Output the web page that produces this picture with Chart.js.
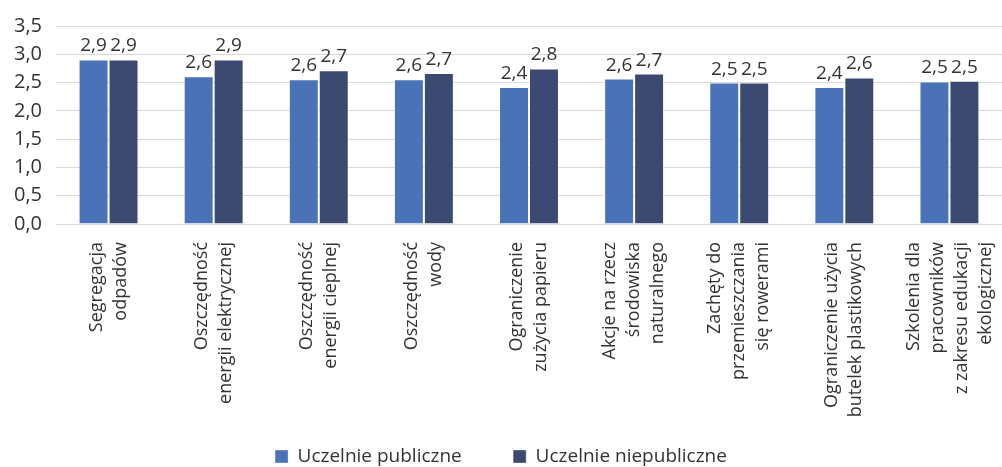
<!DOCTYPE html>
<html>
<head>
<meta charset="utf-8">
<script src="https://cdn.jsdelivr.net/npm/chart.js@4/dist/chart.umd.min.js"></script>
<style>
  html, body { margin: 0; padding: 0; background: #fff; }
  #wrap { width: 1002px; height: 467px; }
</style>
</head>
<body>
<div id="wrap"><canvas id="chart"></canvas></div>
<script>
// data
const categories = [
  ['Segregacja', 'odpadów'],
  ['Oszczędność', 'energii elektrycznej'],
  ['Oszczędność', 'energii cieplnej'],
  ['Oszczędność', 'wody'],
  ['Ograniczenie', 'zużycia papieru'],
  ['Akcje na rzecz', 'środowiska', 'naturalnego'],
  ['Zachęty do', 'przemieszczania', 'się rowerami'],
  ['Ograniczenie użycia', 'butelek plastikowych'],
  ['Szkolenia dla', 'pracowników', 'z zakresu edukacji', 'ekologicznej']
]
const publicValues = [2.91, 2.61, 2.56, 2.56, 2.42, 2.57, 2.50, 2.42, 2.52]
const privateValues = [2.91, 2.91, 2.72, 2.67, 2.75, 2.66, 2.50, 2.59, 2.53]
const seriesNames = ['Uczelnie publiczne', 'Uczelnie niepubliczne']

const fmt = v => v.toFixed(1).replace('.', ',')

// value labels above bars
const barLabels = {
  id: 'barLabels',
  afterDatasetsDraw(chart) {
    const ctx = chart.ctx
    ctx.save()
    ctx.font = '19px "Open Sans"'
    ctx.fillStyle = '#333'
    ctx.textAlign = 'center'
    ctx.textBaseline = 'alphabetic'
    chart.data.datasets.forEach((ds, i) => {
      chart.getDatasetMeta(i).data.forEach((bar, j) => {
        ctx.fillText(fmt(ds.data[j]), bar.x, bar.y - 8)
      })
    })
    ctx.restore()
  }
}

// rotated multi-line category labels, centred on each tick
const catLabels = {
  id: 'catLabels',
  afterDraw(chart) {
    const ctx = chart.ctx
    const x = chart.scales.x
    const lh = 24
    ctx.save()
    ctx.font = '18px "Open Sans"'
    ctx.fillStyle = '#333'
    ctx.textAlign = 'right'
    ctx.textBaseline = 'middle'
    categories.forEach((lines, i) => {
      ctx.save()
      ctx.translate(x.getPixelForValue(i), x.top + 18)
      ctx.rotate(-Math.PI / 2)
      lines.forEach((line, k) => {
        ctx.fillText(line, 0, (k - (lines.length - 1) / 2) * lh)
      })
      ctx.restore()
    })
    ctx.restore()
  }
}

Chart.defaults.font.family = '"Open Sans", sans-serif'
Chart.defaults.color = '#333'

new Chart(document.getElementById('chart'), {
  type: 'bar',
  data: {
    labels: categories.map(c => c.join(' ')),
    datasets: [
      {
        label: seriesNames[0],
        data: publicValues,
        backgroundColor: '#4a72b7',
        borderColor: 'rgba(255,255,255,0.35)',
        borderWidth: 1
      },
      {
        label: seriesNames[1],
        data: privateValues,
        backgroundColor: '#3c4a72',
        borderColor: 'rgba(255,255,255,0.35)',
        borderWidth: 1
      }
    ]
  },
  options: {
    responsive: true,
    maintainAspectRatio: false,
    animation: false,
    layout: { padding: { top: 24, right: 0, left: 0, bottom: -9 } },
    datasets: {
      bar: { categoryPercentage: 0.57, barPercentage: 1.0 }
    },
    plugins: {
      legend: {
        position: 'bottom',
        labels: {
          boxWidth: 13,
          boxHeight: 13,
          padding: 2,
          font: { size: 19 },
          color: '#333',
          generateLabels: chart => {
            const items = Chart.defaults.plugins.legend.labels.generateLabels(chart)
            items[0].text += '\u00a0'.repeat(10)
            return items
          }
        }
      },
      tooltip: { enabled: false }
    },
    scales: {
      x: {
        grid: { display: false },
        border: { color: '#d9d9d9' },
        ticks: { display: false },
        afterFit: s => { s.height = 221 }
      },
      y: {
        min: 0,
        max: 3.5,
        grid: { color: '#d9d9d9', drawTicks: false },
        border: { display: false },
        afterFit: s => { s.width = 56 },
        ticks: {
          stepSize: 0.5,
          autoSkip: false,
          padding: 14,
          font: { size: 20 },
          color: '#333',
          callback: v => fmt(v)
        }
      }
    }
  },
  plugins: [barLabels, catLabels]
})
</script>
</body>
</html>
